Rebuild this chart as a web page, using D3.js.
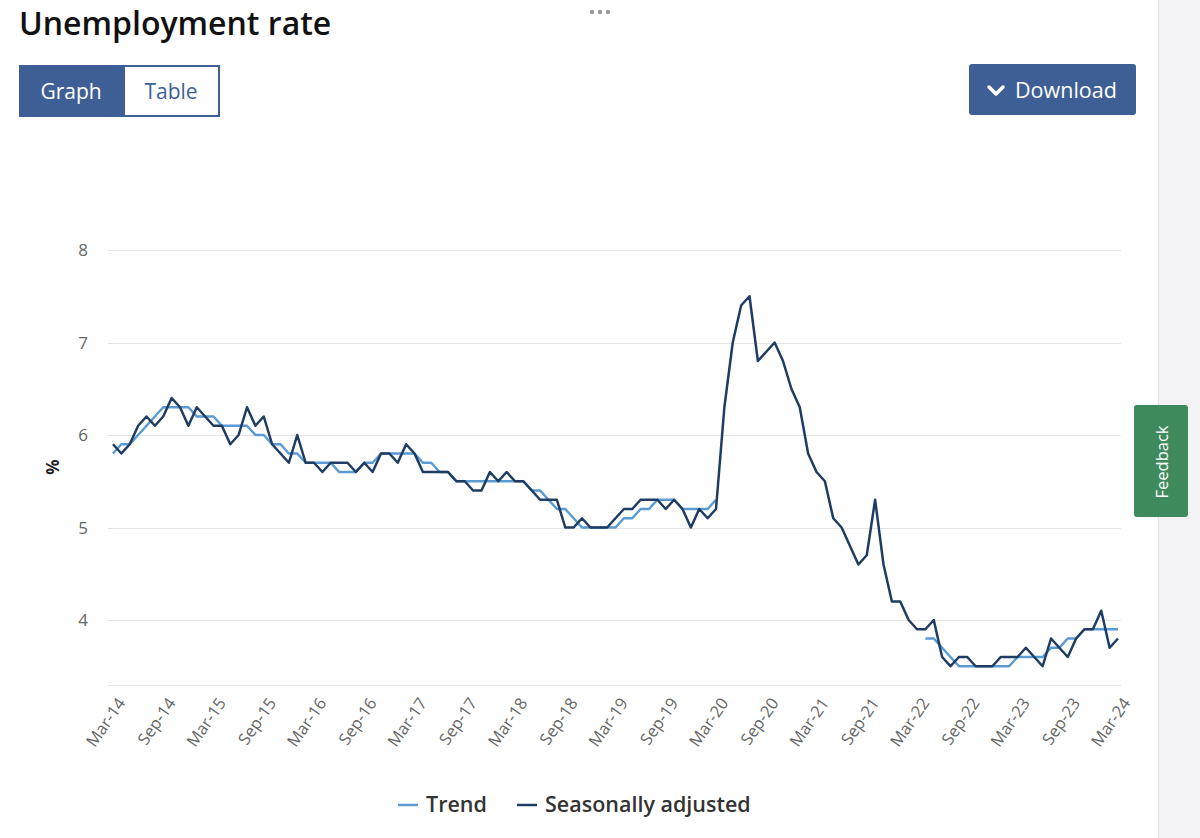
<!DOCTYPE html>
<html>
<head>
<meta charset="utf-8">
<script src="https://cdn.jsdelivr.net/npm/d3@7"></script>
<style>
  html, body { margin: 0; padding: 0; background: #ffffff; }
  svg { display: block; font-family: "Open Sans", "Noto Sans", sans-serif; }
</style>
</head>
<body>
<svg id="chart" width="1200" height="838"></svg>
<script>
// ---------- DATA ----------
const startMonth = new Date(2014, 2, 1); // Mar-14
const fmt = d3.timeFormat("%b-%y");
const months = d3.range(121).map(i => fmt(d3.timeMonth.offset(startMonth, i)));

const seasonallyAdjusted = [
  5.9, 5.8, 5.9, 6.1, 6.2, 6.1, 6.2, 6.4, 6.3, 6.1,                 // 2014 Mar-Dec
  6.3, 6.2, 6.1, 6.1, 5.9, 6.0, 6.3, 6.1, 6.2, 5.9, 5.8, 5.7,       // 2015
  6.0, 5.7, 5.7, 5.6, 5.7, 5.7, 5.7, 5.6, 5.7, 5.6, 5.8, 5.8,       // 2016
  5.7, 5.9, 5.8, 5.6, 5.6, 5.6, 5.6, 5.5, 5.5, 5.4, 5.4, 5.6,       // 2017
  5.5, 5.6, 5.5, 5.5, 5.4, 5.3, 5.3, 5.3, 5.0, 5.0, 5.1, 5.0,       // 2018
  5.0, 5.0, 5.1, 5.2, 5.2, 5.3, 5.3, 5.3, 5.2, 5.3, 5.2, 5.0,       // 2019
  5.2, 5.1, 5.2, 6.3, 7.0, 7.4, 7.5, 6.8, 6.9, 7.0, 6.8, 6.5,       // 2020
  6.3, 5.8, 5.6, 5.5, 5.1, 5.0, 4.8, 4.6, 4.7, 5.3, 4.6, 4.2,       // 2021
  4.2, 4.0, 3.9, 3.9, 4.0, 3.6, 3.5, 3.6, 3.6, 3.5, 3.5, 3.5,       // 2022
  3.6, 3.6, 3.6, 3.7, 3.6, 3.5, 3.8, 3.7, 3.6, 3.8, 3.9, 3.9,       // 2023
  4.1, 3.7, 3.8                                                     // 2024 Jan-Mar
];

const trend = [
  5.8, 5.9, 5.9, 6.0, 6.1, 6.2, 6.3, 6.3, 6.3, 6.3,                 // 2014 Mar-Dec
  6.2, 6.2, 6.2, 6.1, 6.1, 6.1, 6.1, 6.0, 6.0, 5.9, 5.9, 5.8,       // 2015
  5.8, 5.7, 5.7, 5.7, 5.7, 5.6, 5.6, 5.6, 5.7, 5.7, 5.8, 5.8,       // 2016
  5.8, 5.8, 5.8, 5.7, 5.7, 5.6, 5.6, 5.5, 5.5, 5.5, 5.5, 5.5,       // 2017
  5.5, 5.5, 5.5, 5.5, 5.4, 5.4, 5.3, 5.2, 5.2, 5.1, 5.0, 5.0,       // 2018
  5.0, 5.0, 5.0, 5.1, 5.1, 5.2, 5.2, 5.3, 5.3, 5.3, 5.2, 5.2,       // 2019
  5.2, 5.2, 5.3, null, null, null, null, null, null, null, null, null, // 2020
  null, null, null, null, null, null, null, null, null, null, null, null, // 2021
  null, null, null, 3.8, 3.8, 3.7, 3.6, 3.5, 3.5, 3.5, 3.5, 3.5,   // 2022
  3.5, 3.5, 3.6, 3.6, 3.6, 3.6, 3.7, 3.7, 3.8, 3.8, 3.9, 3.9,       // 2023
  3.9, 3.9, 3.9                                                     // 2024 Jan-Mar
];

const yTicks = [4, 5, 6, 7, 8];
const xTickLabels = months.filter((m, i) => i % 6 === 0);
const seriesNames = ["Trend", "Seasonally adjusted"];
const seriesColors = ["#5a9bd3", "#1f3d63"];

// ---------- DRAW ----------
const svg = d3.select("#chart");
const blue = "#3e5f95";

// right page gutter
svg.append("rect").attr("x", 1158).attr("y", 0).attr("width", 42).attr("height", 838).attr("fill", "#f3f3f5");
svg.append("line").attr("x1", 1158.5).attr("x2", 1158.5).attr("y1", 0).attr("y2", 838).attr("stroke", "#e2e2e6");

// title
svg.append("text").attr("x", 19).attr("y", 35)
  .attr("font-size", 32).attr("font-weight", 600).attr("fill", "#111")
  .text("Unemployment rate");

// dots
[592, 600, 608].forEach(cx => svg.append("circle").attr("cx", cx).attr("cy", 12).attr("r", 2.3).attr("fill", "#9a9a9a"));

// Graph/Table toggle
svg.append("rect").attr("x", 20).attr("y", 66).attr("width", 199).attr("height", 50).attr("fill", "#fff").attr("stroke", blue).attr("stroke-width", 2);
svg.append("rect").attr("x", 20).attr("y", 66).attr("width", 105).attr("height", 50).attr("fill", blue);
svg.append("text").attr("x", 71).attr("y", 99).attr("text-anchor", "middle").attr("font-size", 21).attr("fill", "#fff").text("Graph");
svg.append("text").attr("x", 171).attr("y", 99).attr("text-anchor", "middle").attr("font-size", 21).attr("fill", blue).text("Table");

// Download button
svg.append("rect").attr("x", 969).attr("y", 64).attr("width", 167).attr("height", 51).attr("rx", 3).attr("fill", blue);
svg.append("path").attr("d", "M989,87 L996,94 L1003,87").attr("fill", "none").attr("stroke", "#fff").attr("stroke-width", 3.5).attr("stroke-linecap", "round").attr("stroke-linejoin", "round");
svg.append("text").attr("x", 1015).attr("y", 98).attr("font-size", 21.5).attr("fill", "#fff").text("Download");

// Feedback tab
svg.append("rect").attr("x", 1134).attr("y", 405).attr("width", 54).attr("height", 112).attr("rx", 3).attr("fill", "#3e8a5c");
svg.append("text").attr("transform", "translate(1168,462) rotate(-90)").attr("text-anchor", "middle")
  .attr("font-size", 16.5).attr("fill", "#fff").text("Feedback");

// scales
const x = d3.scalePoint().domain(months).range([113, 1118]);
const y = d3.scaleLinear().domain([4, 8]).range([620, 250]);

// grid
svg.append("g").selectAll("line").data(yTicks).join("line")
  .attr("x1", 108).attr("x2", 1121)
  .attr("y1", d => Math.round(y(d)) + 0.5).attr("y2", d => Math.round(y(d)) + 0.5)
  .attr("stroke", "#e4e4e4").attr("stroke-width", 1);

// y axis labels
const yAxis = d3.axisLeft(y).tickValues(yTicks).tickSize(0).tickPadding(0).tickFormat(d3.format("d"));
const gy = svg.append("g").attr("transform", "translate(88,0)").call(yAxis);
gy.select(".domain").remove();
gy.selectAll("text").attr("font-size", 17).attr("fill", "#666").attr("font-family", "'Open Sans', sans-serif").attr("dy", "0.35em");

// y axis title
svg.append("text").attr("transform", "translate(59,467) rotate(-90)").attr("text-anchor", "middle")
  .attr("font-size", 17).attr("font-weight", 700).attr("fill", "#222").text("%");

// x axis
const baseY = y(3.3);
svg.append("line").attr("x1", 108).attr("x2", 1121).attr("y1", Math.round(baseY) + 0.5).attr("y2", Math.round(baseY) + 0.5)
  .attr("stroke", "#e4e4e4");
const xAxis = d3.axisBottom(x).tickValues(xTickLabels).tickSize(0).tickPadding(0);
const gx = svg.append("g").attr("transform", `translate(0,${baseY})`).call(xAxis);
gx.select(".domain").remove();
gx.selectAll("text")
  .attr("font-size", 16.5).attr("fill", "#666").attr("font-family", "'Open Sans', sans-serif")
  .attr("text-anchor", "end").attr("dy", "0.35em").attr("y", 0)
  .attr("transform", "translate(8,15) rotate(-55)");

// lines
const line = d3.line()
  .defined(d => d.v !== null)
  .x(d => x(d.m))
  .y(d => y(d.v));

const trendData = months.map((m, i) => ({ m, v: trend[i] }));
const saData = months.map((m, i) => ({ m, v: seasonallyAdjusted[i] }));

svg.append("path").datum(trendData).attr("d", line)
  .attr("fill", "none").attr("stroke", seriesColors[0]).attr("stroke-width", 2.5).attr("stroke-linejoin", "round");
svg.append("path").datum(saData).attr("d", line)
  .attr("fill", "none").attr("stroke", seriesColors[1]).attr("stroke-width", 2.5).attr("stroke-linejoin", "round");

// legend
const legendItems = [
  { name: seriesNames[0], color: seriesColors[0], x: 398 },
  { name: seriesNames[1], color: seriesColors[1], x: 517 }
];
const lg = svg.append("g");
legendItems.forEach(it => {
  lg.append("line").attr("x1", it.x).attr("x2", it.x + 20).attr("y1", 805).attr("y2", 805)
    .attr("stroke", it.color).attr("stroke-width", 2.5);
  lg.append("text").attr("x", it.x + 28).attr("y", 812).attr("font-size", 21.5).attr("font-weight", 600)
    .attr("fill", "#333").text(it.name);
});
</script>
</body>
</html>
